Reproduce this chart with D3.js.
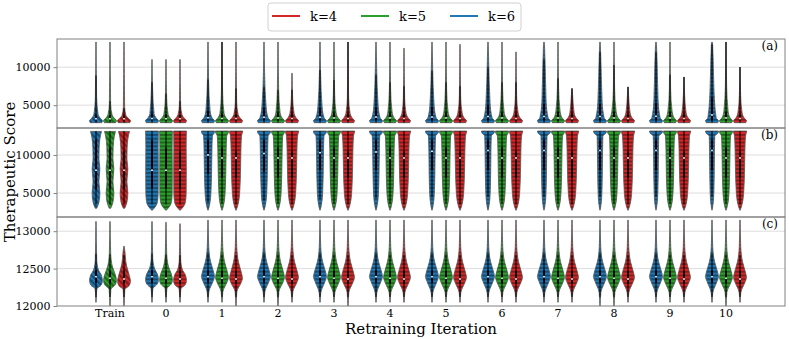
<!DOCTYPE html>
<html>
<head>
<meta charset="utf-8">
<script src="https://cdn.jsdelivr.net/npm/d3@7"></script>
<style>
  body { margin: 0; background: #fff; }
  svg { display: block; }
  text { font-family: "DejaVu Serif", serif; fill: #000; }
</style>
</head>
<body>
<svg id="chart" width="789" height="339"></svg>
<script>
// categories
const iterations = ['Train', '0', '1', '2', '3', '4', '5', '6', '7', '8', '9', '10'];
const kValues = [4, 5, 6];                 // rows of every data array below
const kOrderInGroup = [6, 5, 4];           // left -> right inside a group
const kColors = ['#d62728', '#2ca02c', '#1f77b4'];

// ---- panel (a): bottom-heavy distributions with a long upper tail ----
const aMin = [2700, 2700, 2700];
// level where the body has shrunk to ~30% width
const aMid = [
  [3600, 3700, 3800, 3900, 3900, 3900, 4000, 4000, 4000, 4000, 4000, 4000],
  [3700, 3800, 3900, 4000, 4000, 4100, 4100, 4100, 4200, 4200, 4200, 4200],
  [3800, 3900, 4300, 4800, 4800, 5000, 5000, 5200, 5500, 5500, 5600, 6500]
];
// level where only a thin tail is left
const aTail = [
  [4800, 5000, 5500, 6000, 6000, 6000, 6200, 6200, 6300, 6200, 6300, 6300],
  [5200, 6000, 6500, 7000, 6500, 7000, 7000, 7000, 7200, 7000, 7000, 7500],
  [6000, 7000, 8000, 9000, 9000, 10000, 10000, 11000, 12500, 12000, 12500, 13000]
];
const aMax = [
  [13300, 11000, 13300, 9200, 13300, 12500, 13000, 12000, 7200, 7400, 8700, 10000],
  [13300, 11000, 13300, 13300, 13300, 13300, 13300, 13300, 13300, 13300, 13300, 13300],
  [13300, 11000, 13300, 13300, 13300, 13300, 13300, 13300, 13300, 13300, 13300, 13300]
];
const aMed = [
  [3200, 3200, 3250, 3250, 3250, 3250, 3250, 3250, 3250, 3250, 3250, 3250],
  [3200, 3200, 3250, 3300, 3300, 3300, 3300, 3300, 3300, 3300, 3300, 3300],
  [3200, 3250, 3350, 3400, 3400, 3450, 3450, 3500, 3500, 3500, 3550, 3700]
];
const aQ1 = [2950, 2950, 3000];
const aQ3 = [
  [3600, 3700, 3800, 3900, 3900, 3900, 3900, 3900, 3900, 3900, 3900, 3900],
  [3700, 3800, 3900, 4000, 4000, 4000, 4000, 4000, 4100, 4100, 4100, 4100],
  [3800, 3900, 4300, 4600, 4600, 4700, 4800, 5000, 5200, 5200, 5300, 6000]
];
const aWhiskHi = [
  [4600, 5500, 7200, 7000, 13300, 7500, 7500, 8000, 7200, 7400, 8700, 10000],
  [5500, 6500, 13300, 7000, 8300, 8000, 8000, 8000, 8500, 10300, 9000, 13300],
  [8900, 8000, 8400, 7400, 9600, 9000, 9500, 10000, 11000, 12000, 12000, 13000]
];

// ---- panel (b): top-heavy distributions ----
const bMin = [2750, 2750, 2750];
const bMax = [13150, 13150, 13150];
// width factor of the lower body (groups 1..10 use the taper shape)
const bScale = [
  [1.0, 1.0, 1.0, 1.0, 1.0, 1.0, 1.0, 1.0, 1.0, 1.0, 1.0, 1.0],
  [1.0, 1.0, 0.85, 0.85, 0.85, 0.84, 0.84, 0.83, 0.82, 0.82, 0.82, 0.82],
  [1.0, 1.0, 0.8, 0.75, 0.72, 0.68, 0.64, 0.6, 0.55, 0.52, 0.5, 0.5]
];
// shape templates, [score, width fraction]
const bTrainShape = [[3000, 0.1], [3800, 0.42], [5000, 0.55], [6500, 0.42], [8200, 0.55], [9500, 0.42], [11000, 0.45], [12500, 0.62], [13100, 0.78]];
const bWideShape = [[2750, 0.05], [3300, 0.55], [4000, 0.8], [5000, 0.88], [8000, 0.9], [11000, 0.88], [12600, 0.9], [13150, 0.92]];
const bTaperShape = [[2750, 0.03], [3200, 0.2], [4100, 0.42], [5500, 0.55], [7400, 0.63], [10600, 0.7], [12500, 0.78], [12900, 0.9], [13150, 0.95]];
const bMed = [
  [8000, 8000, 9600, 9600, 9600, 9600, 9600, 9600, 9600, 9600, 9600, 9600],
  [8000, 8000, 9600, 9600, 9600, 9600, 9600, 9600, 9600, 9600, 9600, 9600],
  [8000, 8000, 10000, 10200, 10300, 10400, 10500, 10600, 10600, 10600, 10600, 10600]
];
const bQ1 = [
  [5500, 5600, 7000, 7000, 7000, 7000, 7000, 7000, 7000, 7000, 7000, 7000],
  [5500, 5600, 7000, 7000, 7000, 7000, 7000, 7000, 7000, 7000, 7000, 7000],
  [5500, 5600, 7500, 7800, 8000, 8000, 8000, 8000, 8000, 8000, 8000, 8000]
];
const bQ3 = [10500, 11000, 12000];
const bWhiskLo = [
  [3500, 3500, 3500, 3500, 3500, 3500, 3500, 3500, 3500, 3500, 3500, 3500],
  [3500, 3500, 3600, 3600, 3600, 3600, 3600, 3600, 3600, 3600, 3600, 3600],
  [3500, 3500, 3800, 4000, 4200, 4300, 4400, 4500, 4500, 4500, 4500, 4500]
];

// ---- panel (c): narrow peaked distributions ----
const cMin = [
  [12000, 12050, 12000, 12050, 12000, 12050, 12050, 12050, 12050, 12050, 12050, 12050],
  [12000, 12050, 12050, 12000, 12050, 12050, 12050, 12050, 12050, 12000, 12050, 12000],
  [12050, 12050, 12050, 12050, 12050, 12050, 12050, 12050, 12050, 12000, 12050, 12050]
];
const cLow = [
  [12220, 12230, 12190, 12190, 12180, 12180, 12180, 12180, 12180, 12180, 12180, 12180],
  [12220, 12230, 12190, 12190, 12180, 12180, 12180, 12180, 12180, 12180, 12180, 12180],
  [12230, 12230, 12190, 12190, 12180, 12180, 12180, 12180, 12180, 12180, 12180, 12180]
];
const cPeak = [
  [12330, 12340, 12370, 12380, 12380, 12380, 12380, 12380, 12380, 12380, 12380, 12380],
  [12340, 12350, 12380, 12380, 12380, 12380, 12380, 12380, 12380, 12380, 12380, 12380],
  [12337, 12350, 12390, 12390, 12390, 12390, 12390, 12390, 12390, 12390, 12390, 12390]
];
const cHigh = [
  [12750, 12620, 12800, 12800, 12800, 12800, 12800, 12800, 12800, 12800, 12800, 12800],
  [12700, 12700, 12800, 12800, 12800, 12800, 12800, 12800, 12800, 12800, 12800, 12800],
  [12620, 12650, 12800, 12800, 12800, 12800, 12800, 12800, 12800, 12800, 12800, 12800]
];
const cMax = [
  [12800, 13100, 13150, 13150, 13150, 13150, 13150, 13150, 13150, 13150, 13150, 13150],
  [13130, 13120, 13150, 13150, 13150, 13150, 13150, 13150, 13150, 13150, 13150, 13150],
  [13130, 13130, 13150, 13150, 13150, 13150, 13150, 13150, 13150, 13150, 13150, 13150]
];
const cMed = [12360, 12370, 12390];
const cQ1 = [12300, 12300, 12310];
const cQ3 = [12470, 12470, 12480];
const cWhiskLo = [12120, 12120, 12120];
const cWhiskHi = [12680, 12690, 12700];

const yTicksAB = [5000, 10000];
const yTicksC = [12000, 12500, 13000];

// ------------------------------------------------------------------
const pick = (arr, r, i) => Array.isArray(arr[r]) ? arr[r][i] : arr[r];
const MAXHW = 7;
const plotLeft = 57, plotRight = 785;

const svg = d3.select('#chart');

const x = d3.scaleLinear().domain([0, iterations.length - 1]).range([110, 726]);
const offset = d3.scaleBand().domain(kOrderInGroup).range([-21, 21]);

const panels = [
    {
        name: '(a)', top: 39, bottom: 128, domain: [2000, 13700], ticks: yTicksAB,
        profile(r, i) {
            const lo = pick(aMin, r, i);
            return [[lo, 0.82], [lo + 250, 0.93], [lo + 600, 0.6], [pick(aMid, r, i), 0.3],
                [pick(aTail, r, i), 0.09], [pick(aMax, r, i), 0.02]];
        },
        box(r, i) {
            return {lo: pick(aMin, r, i), q1: pick(aQ1, r, i), med: pick(aMed, r, i),
                q3: pick(aQ3, r, i), hi: Math.min(pick(aWhiskHi, r, i), pick(aMax, r, i))};
        }
    },
    {
        name: '(b)', top: 128, bottom: 217, domain: [1850, 13550], ticks: yTicksAB,
        profile(r, i) {
            if (i === 0) return bTrainShape;
            if (i === 1) return bWideShape;
            const s = pick(bScale, r, i);
            const n = bTaperShape.length;
            return bTaperShape.map((d, j) => [d[0], j >= n - 2 ? d[1] * (0.93 + 0.07 * s) : d[1] * s]);
        },
        box(r, i) {
            return {lo: pick(bWhiskLo, r, i), q1: pick(bQ1, r, i), med: pick(bMed, r, i),
                q3: pick(bQ3, r, i), hi: pick(bMax, r, i)};
        }
    },
    {
        name: '(c)', top: 217, bottom: 306, domain: [12000, 13190], ticks: yTicksC,
        profile(r, i) {
            const pk = pick(cPeak, r, i), hi = pick(cHigh, r, i);
            return [[pick(cMin, r, i), 0.02], [pick(cLow, r, i), 0.12], [pk - 60, 0.72], [pk, 0.92],
                [pk + 80, 0.75], [(pk + hi) / 2, 0.36], [hi, 0.1], [pick(cMax, r, i), 0.02]];
        },
        box(r, i) {
            return {lo: pick(cWhiskLo, r, i), q1: pick(cQ1, r, i), med: pick(cMed, r, i),
                q3: pick(cQ3, r, i), hi: pick(cWhiskHi, r, i)};
        }
    }
];

// hatch patterns
const defs = svg.append('defs');
defs.append('pattern')
    .attr('id', 'hatch-h')
    .attr('patternUnits', 'userSpaceOnUse')
    .attr('width', 8).attr('height', 3.8)
  .append('line')
    .attr('x1', 0).attr('x2', 8).attr('y1', 1.9).attr('y2', 1.9)
    .attr('stroke', '#000').attr('stroke-width', 0.7);
defs.append('pattern')
    .attr('id', 'hatch-d')
    .attr('patternUnits', 'userSpaceOnUse')
    .attr('width', 8).attr('height', 4)
    .attr('patternTransform', 'rotate(45)')
  .append('line')
    .attr('x1', 0).attr('x2', 8).attr('y1', 2).attr('y2', 2)
    .attr('stroke', '#000').attr('stroke-width', 0.7);

panels.forEach((p) => {
    const y = d3.scaleLinear().domain(p.domain).range([p.bottom, p.top]);
    const g = svg.append('g');

    // grid
    g.selectAll('line.grid')
      .data(p.ticks.filter((t) => y(t) < p.bottom - 1))
      .enter()
      .append('line')
        .attr('x1', plotLeft).attr('x2', plotRight)
        .attr('y1', (d) => y(d)).attr('y2', (d) => y(d))
        .attr('stroke', '#dddddd').attr('stroke-width', 1);

    const violins = g.append('g');
    iterations.forEach((it, i) => {
        kOrderInGroup.forEach((k) => {
            const r = kValues.indexOf(k);
            const cx = x(i) + offset(k) + offset.bandwidth() / 2;
            const area = d3.area()
                .curve(d3.curveMonotoneY)
                .y((d) => y(d[0]))
                .x0((d) => cx - d[1] * MAXHW)
                .x1((d) => cx + d[1] * MAXHW);
            const path = area(p.profile(r, i));
            violins.append('path').attr('d', path).attr('fill', kColors[r]);
            violins.append('path').attr('d', path).attr('fill', i === 0 ? 'url(#hatch-d)' : 'url(#hatch-h)');
            violins.append('path').attr('d', path)
                .attr('fill', 'none').attr('stroke', '#555').attr('stroke-width', 0.8);

            // inner box
            const b = p.box(r, i);
            violins.append('line')
                .attr('x1', cx).attr('x2', cx).attr('y1', y(b.lo)).attr('y2', y(b.hi))
                .attr('stroke', '#000').attr('stroke-width', 1);
            violins.append('line')
                .attr('x1', cx).attr('x2', cx).attr('y1', y(b.q1)).attr('y2', y(b.q3))
                .attr('stroke', '#000').attr('stroke-width', 2);
            violins.append('circle')
                .attr('cx', cx).attr('cy', y(b.med)).attr('r', 1)
                .attr('fill', '#eee');
        });
    });

    // frame
    g.append('rect')
        .attr('x', plotLeft).attr('y', p.top)
        .attr('width', plotRight - plotLeft).attr('height', p.bottom - p.top)
        .attr('fill', 'none').attr('stroke', '#808080').attr('stroke-width', 1);

    // y axis
    const axis = g.append('g')
        .attr('transform', `translate(${plotLeft},0)`)
        .call(d3.axisLeft(y).tickValues(p.ticks).tickSize(3.5).tickPadding(3).tickFormat(d3.format('d')));
    axis.select('.domain').remove();
    axis.selectAll('line').attr('stroke', '#808080');
    axis.selectAll('text').attr('font-size', 11).attr('font-family', '"DejaVu Serif", serif');

    g.append('text')
        .attr('x', 778).attr('y', p.top + 11)
        .attr('text-anchor', 'end')
        .attr('font-size', 12)
        .text(p.name);
});

// x axis labels
svg.append('g')
  .selectAll('text')
  .data(iterations)
  .enter()
  .append('text')
    .attr('x', (d, i) => x(i))
    .attr('y', 317)
    .attr('text-anchor', 'middle')
    .attr('font-size', 11)
    .text((d) => d);

svg.append('text')
    .attr('x', 421).attr('y', 334)
    .attr('text-anchor', 'middle')
    .attr('font-size', 15)
    .text('Retraining Iteration');

svg.append('text')
    .attr('transform', 'translate(15,172) rotate(-90)')
    .attr('text-anchor', 'middle')
    .attr('font-size', 15)
    .text('Therapeutic Score');

// legend
const legend = svg.append('g').attr('transform', 'translate(268,3)');
legend.append('rect')
    .attr('width', 253).attr('height', 28).attr('rx', 3)
    .attr('fill', '#fff').attr('stroke', '#d0d0d0');
kValues.forEach((k, j) => {
    const lg = legend.append('g').attr('transform', `translate(${4 + j * 89},0)`);
    lg.append('line')
        .attr('x1', 0).attr('x2', 28).attr('y1', 13).attr('y2', 13)
        .attr('stroke', kColors[j]).attr('stroke-width', 2);
    lg.append('text')
        .attr('x', 38).attr('y', 18)
        .attr('font-size', 13)
        .text(`k=${k}`);
});
</script>
</body>
</html>
